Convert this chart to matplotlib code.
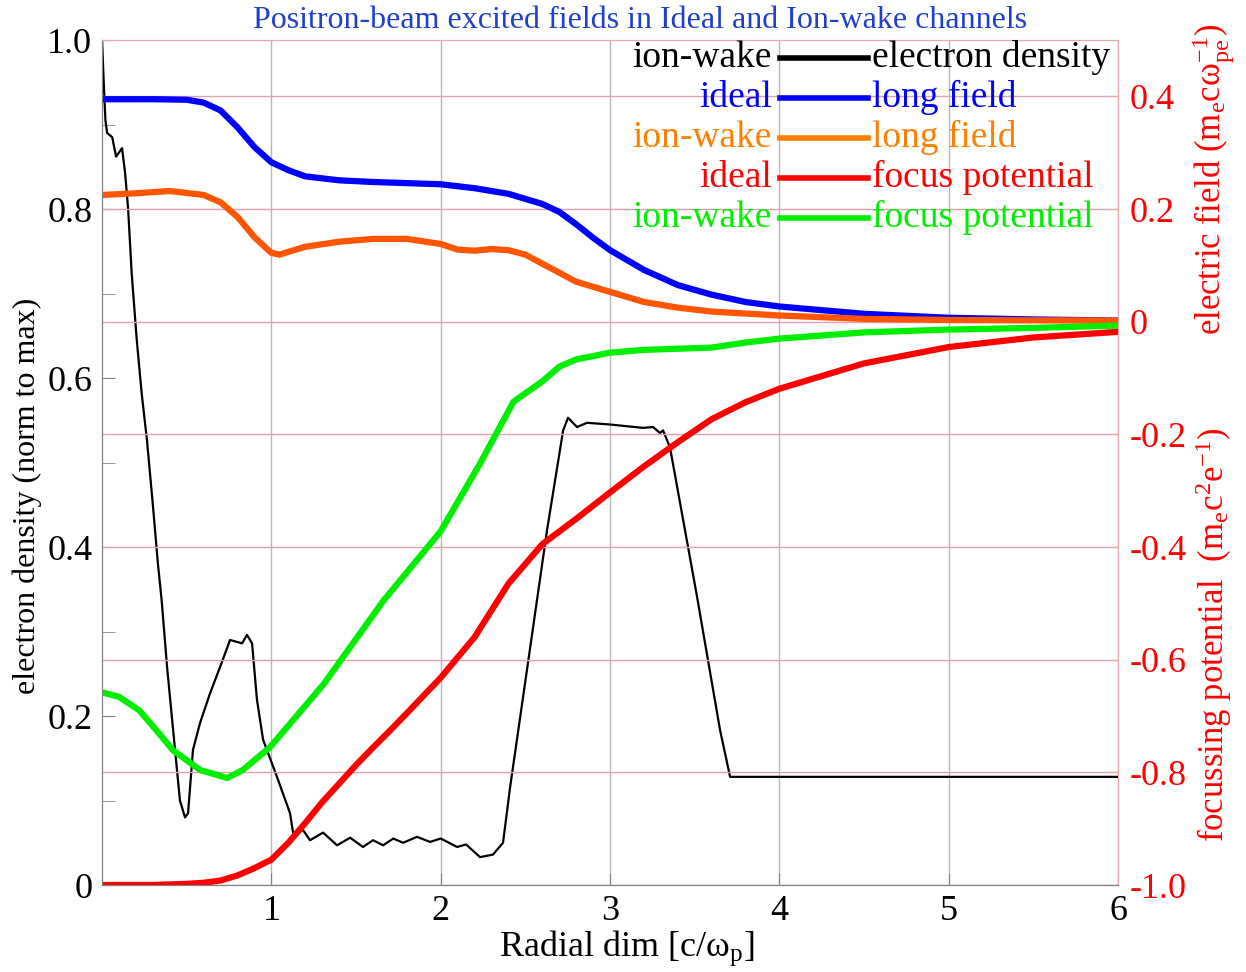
import numpy as np
import matplotlib.pyplot as plt

plt.rcParams['font.family'] = ['Liberation Serif', 'DejaVu Serif']
plt.rcParams['mathtext.fontset'] = 'custom'
plt.rcParams['mathtext.rm'] = 'Liberation Serif'
plt.rcParams['mathtext.it'] = 'Liberation Serif:italic'

# --- data ---
# ideal channel, longitudinal field (right axis)
x_long_ideal = [0, 0.3, 0.5, 0.6, 0.7, 0.8, 0.9, 1.0, 1.1, 1.2, 1.4, 1.6, 1.8, 2.0, 2.2,
                2.4, 2.6, 2.7, 2.8, 2.9, 3.0, 3.2, 3.4, 3.6, 3.8, 4.0, 4.5, 5.0, 5.5, 6.0]
long_ideal = [0.395, 0.395, 0.394, 0.389, 0.375, 0.345, 0.310, 0.283, 0.269, 0.258, 0.251,
              0.248, 0.246, 0.244, 0.237, 0.227, 0.209, 0.195, 0.173, 0.149, 0.127, 0.092,
              0.065, 0.048, 0.035, 0.027, 0.014, 0.007, 0.004, 0.002]

# ion-wake channel, longitudinal field (right axis)
x_long_ion = [0, 0.2, 0.4, 0.6, 0.7, 0.8, 0.9, 1.0, 1.05, 1.1, 1.2, 1.4, 1.6, 1.8, 2.0,
              2.1, 2.2, 2.3, 2.4, 2.5, 2.6, 2.8, 3.0, 3.2, 3.4, 3.6, 4.0, 4.5, 5.0, 6.0]
long_ion = [0.225, 0.228, 0.232, 0.225, 0.212, 0.186, 0.150, 0.122, 0.119, 0.124, 0.133,
            0.142, 0.147, 0.147, 0.138, 0.128, 0.126, 0.129, 0.127, 0.119, 0.103, 0.071,
            0.053, 0.035, 0.025, 0.018, 0.011, 0.005, 0.003, 0.002]

# ideal channel, focusing potential (right axis)
x_foc_ideal = [0, 0.3, 0.5, 0.6, 0.7, 0.8, 0.9, 1.0, 1.1, 1.2, 1.3, 1.4, 1.5, 1.6, 1.7,
               1.8, 2.0, 2.2, 2.4, 2.6, 2.8, 3.0, 3.2, 3.4, 3.6, 3.8, 4.0, 4.5, 5.0, 5.5, 6.0]
foc_ideal = [-1.0, -1.0, -0.998, -0.996, -0.992, -0.983, -0.970, -0.955, -0.925, -0.890,
             -0.853, -0.820, -0.787, -0.756, -0.726, -0.695, -0.632, -0.560, -0.465, -0.395,
             -0.350, -0.303, -0.257, -0.214, -0.173, -0.143, -0.119, -0.074, -0.045, -0.028,
             -0.018]

# ion-wake channel, focusing potential (right axis)
x_foc_ion = [0, 0.1, 0.22, 0.32, 0.42, 0.58, 0.74, 0.83, 0.99, 1.31, 1.66, 2.0, 2.23, 2.43,
             2.6, 2.7, 2.8, 3.0, 3.2, 3.4, 3.6, 3.8, 4.0, 4.5, 5.0, 5.5, 6.0]
foc_ion = [-0.658, -0.666, -0.690, -0.725, -0.761, -0.796, -0.810, -0.796, -0.756, -0.643,
           -0.496, -0.372, -0.253, -0.142, -0.106, -0.080, -0.067, -0.055, -0.050, -0.048,
           -0.046, -0.037, -0.030, -0.019, -0.014, -0.011, -0.007]

# ion-wake electron density (left axis)
x_dens = [0, 0.01, 0.02, 0.03, 0.06, 0.083, 0.118, 0.136, 0.154, 0.175, 0.205, 0.235, 0.265,
          0.30, 0.33, 0.352, 0.384, 0.431, 0.46, 0.49, 0.508, 0.537, 0.579, 0.638, 0.697,
          0.756, 0.827, 0.856, 0.886, 0.915, 0.951, 1.033, 1.11, 1.128, 1.187, 1.228, 1.305,
          1.388, 1.465, 1.541, 1.60, 1.66, 1.72, 1.778, 1.86, 1.937, 2.0, 2.097, 2.15, 2.232,
          2.309, 2.368, 2.41, 2.486, 2.628, 2.723, 2.752, 2.805, 2.864, 3.0, 3.195, 3.254,
          3.295, 3.313, 3.354, 3.514, 3.65, 3.709, 4.0, 5.0, 6.0]
dens = [1.0, 0.95, 0.905, 0.89, 0.885, 0.862, 0.872, 0.843, 0.80, 0.724, 0.645, 0.58, 0.527,
        0.45, 0.38, 0.337, 0.258, 0.16, 0.10, 0.08, 0.085, 0.16, 0.192, 0.227, 0.258,
        0.29, 0.286, 0.296, 0.286, 0.219, 0.172, 0.128, 0.085, 0.062, 0.065, 0.053, 0.062,
        0.047, 0.056, 0.045, 0.053, 0.047, 0.055, 0.05, 0.057, 0.051, 0.055, 0.045, 0.048,
        0.033, 0.036, 0.05, 0.116, 0.222, 0.42, 0.538, 0.553, 0.542, 0.547, 0.545, 0.541,
        0.542, 0.535, 0.538, 0.518, 0.341, 0.183, 0.128, 0.128, 0.128, 0.128]

left_ticks = [0, 0.2, 0.4, 0.6, 0.8, 1.0]
left_ticklabels = ['0', '0.2', '0.4', '0.6', '0.8', '1.0']
right_ticks = [-1.0, -0.8, -0.6, -0.4, -0.2, 0, 0.2, 0.4]
right_ticklabels = ['-1.0', '-0.8', '-0.6', '-0.4', '-0.2', '0', '0.2', '0.4']
x_ticks = [1, 2, 3, 4, 5, 6]

legend_left = ['ion-wake', 'ideal', 'ion-wake', 'ideal', 'ion-wake']
legend_right = ['electron density', 'long field', 'long field', 'focus potential', 'focus potential']
legend_colors = ['black', '#0000ff', '#ff8000', '#ff0000', '#00ee00']

# --- figure ---
fig = plt.figure(figsize=(12.46, 9.72), dpi=100)
ax = fig.add_axes([0.0819, 0.0895, 0.8154, 0.8693])
ax2 = ax.twinx()

ax.plot(x_dens, dens, color='black', lw=1.6, zorder=3)
ax.set_xlim(0, 6)
ax.set_ylim(0, 1.0)
ax.set_xticks(x_ticks)
ax.set_yticks(left_ticks)
ax.set_yticklabels(left_ticklabels)
ax.set_yticks(np.arange(0.1, 1.0, 0.2), minor=True)
ax.tick_params(axis='both', direction='in', length=9, color='#808080', labelsize=26, pad=7)
ax.tick_params(axis='y', which='minor', direction='in', length=9, color='#808080')
ax.grid(axis='x', color='#b8b8b8', lw=1)

ax2.plot(x_long_ideal, long_ideal, color='#0000ff', lw=4.5)
ax2.plot(x_long_ion, long_ion, color='#ff5500', lw=4.5)
ax2.plot(x_foc_ion, foc_ion, color='#00ee00', lw=4.5)
ax2.plot(x_foc_ideal, foc_ideal, color='#ff0000', lw=4.5)
ax2.set_ylim(-1.0, 0.5)
ax2.set_yticks(right_ticks)
ax2.set_yticklabels(right_ticklabels)
ax2.tick_params(axis='y', direction='in', length=9, color='#e8a8b0', labelcolor='#ff0000',
                labelsize=26, pad=8)
ax2.grid(axis='y', color='#e0a0b0', lw=1)

for a in (ax, ax2):
    a.spines['left'].set_color('#808080')
    a.spines['bottom'].set_color('#808080')
    a.spines['top'].set_color('#e8a8b0')
    a.spines['right'].set_color('#e8a8b0')

# legend built from text rows
for i in range(len(legend_left)):
    yy = 0.979 - i * 0.0473
    c = legend_colors[i]
    ax2.text(0.659, yy, legend_left[i], transform=ax2.transAxes, ha='right', va='center',
             color=c, fontsize=27)
    ax2.plot([0.667, 0.754], [yy, yy], transform=ax2.transAxes, color=c, lw=4,
             clip_on=False)
    ax2.text(0.758, yy, legend_right[i], transform=ax2.transAxes, ha='left', va='center',
             color=c, fontsize=27)

fig.text(0.514, 0.979, 'Positron-beam excited fields in Ideal and Ion-wake channels',
         ha='center', va='center', color='#1f3fcc', fontsize=23)
fig.text(0.503, 0.024, r'Radial dim [c/$\mathrm{\omega_p}$]', ha='center', va='center',
         fontsize=26)
fig.text(0.022, 0.49, 'electron density (norm to max)', rotation=90, ha='center',
         va='center', fontsize=23)
fig.text(0.974, 0.815, r'electric field (m$_\mathrm{e}$c$\mathrm{\omega_{pe}^{-1}}$)',
         rotation=90, ha='center', va='center', color='#ff0000', fontsize=25)
fig.text(0.974, 0.347, r'focussing potential  (m$_\mathrm{e}$c$^\mathrm{2}$e$^\mathrm{-1}$)',
         rotation=90, ha='center', va='center', color='#ff0000', fontsize=25)

fig.savefig('out.png', dpi=100)
